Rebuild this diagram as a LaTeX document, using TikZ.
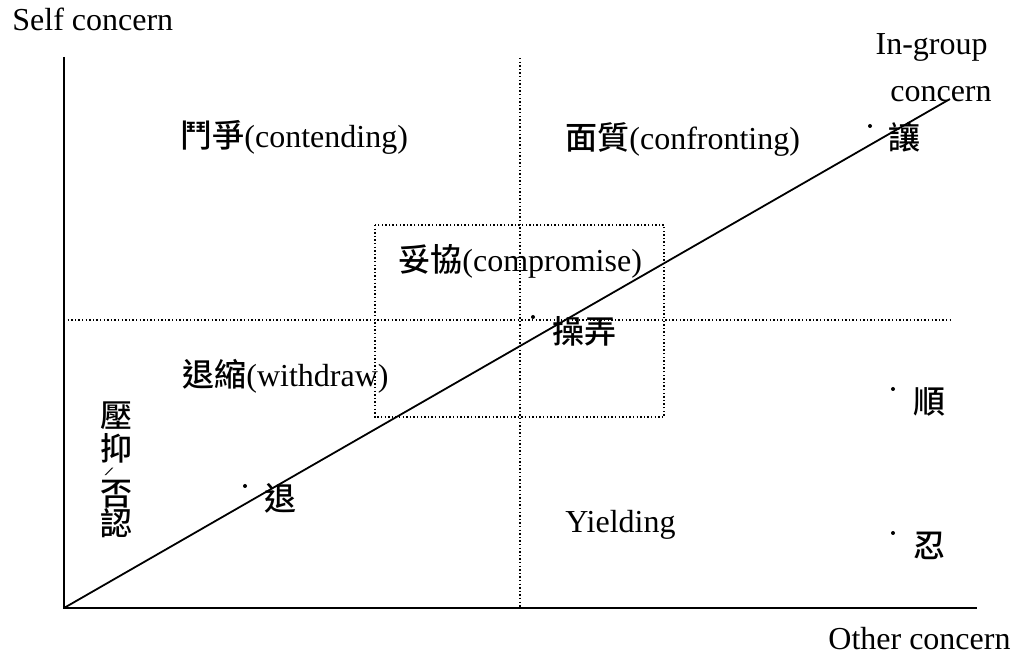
\documentclass[tikz,border=0pt]{standalone}
\usepackage{fontspec}
\setmainfont{Liberation Serif}
\newfontfamily\cjk{Noto Sans CJK TC Medium}
\usepackage{tikz}

\tikzset{
  lbl/.style={inner sep=0pt, font=\fontsize{16}{19}\selectfont},
  axis/.style={line width=1pt},
  diag/.style={line width=0.9pt},
  gridline/.style={line width=0.8pt, dash pattern=on 0.7pt off 1.1pt},
  spot/.style={circle, fill, inner sep=0pt, minimum size=2pt},
}

\begin{document}
\begin{tikzpicture}[x=0.5pt, y=-0.5pt]
  \useasboundingbox (0,0) rectangle (1012,656);

  % Draw the two axes and the in-group diagonal
  \coordinate (O) at (64,608);
  \coordinate (ytop) at (64,57);
  \coordinate (xend) at (977,608);
  \coordinate (dend) at (950,99);
  \draw[axis] (ytop) -- (O) -- (xend);
  \draw[diag] (O) -- (dend);

  % Dotted quadrant lines and the compromise box
  \coordinate (vtop) at (520,58);
  \coordinate (vbot) at (520,608);
  \coordinate (hleft) at (64,320);
  \coordinate (hright) at (953,320);
  \draw[gridline] (vtop) -- (vbot);
  \draw[gridline] (hleft) -- (hright);
  \draw[gridline] (375,225) rectangle (664,417);

  % Axis labels
  \node[lbl, anchor=base west] (selfc) at (12,31) {Self concern};
  \node[lbl, anchor=base west] (otherc) at (828,650) {Other concern};
  \node[lbl, anchor=base east] (ingroup) at (988,55) {In-group};
  \node[lbl, anchor=base east] (ingroupb) at (992,102) {concern};

  % Quadrant labels
  \node[lbl, anchor=base west] (contend) at (180,148) {{\cjk 鬥爭}(contending)};
  \node[lbl, anchor=base west] (confront) at (565,150) {{\cjk 面質}(confronting)};
  \node[lbl, anchor=base west] (compromise) at (398,272) {{\cjk 妥協}(compromise)};
  \node[lbl, anchor=base west] (withdraw) at (182,387) {{\cjk 退縮}(withdraw)};
  \node[lbl, anchor=base west] (yielding) at (565,533) {Yielding};

  % Points along the diagonal
  \node[spot] (drang) at (870,126) {};
  \node[lbl] (rang) at (904,137) {\cjk 讓};
  \node[spot] (dcao) at (533,317) {};
  \node[lbl] (caonong) at (584,331) {\cjk 操弄};
  \node[spot] (dshun) at (893,389) {};
  \node[lbl] (shun) at (929,402) {\cjk 順};
  \node[spot] (dren) at (893,533) {};
  \node[lbl] (ren) at (929,546) {\cjk 忍};
  \node[spot] (dtui) at (245,486) {};
  \node[lbl] (tui) at (280,498) {\cjk 退};

  % Vertical label next to the self axis
  \foreach \c/\y in {壓/416, 抑/448, 否/494, 認/523}
    \node[lbl] at (116,\y) {\cjk \c};
  \node[lbl, yscale=0.35] (slash) at (109,472) {/};
\end{tikzpicture}
\end{document}
